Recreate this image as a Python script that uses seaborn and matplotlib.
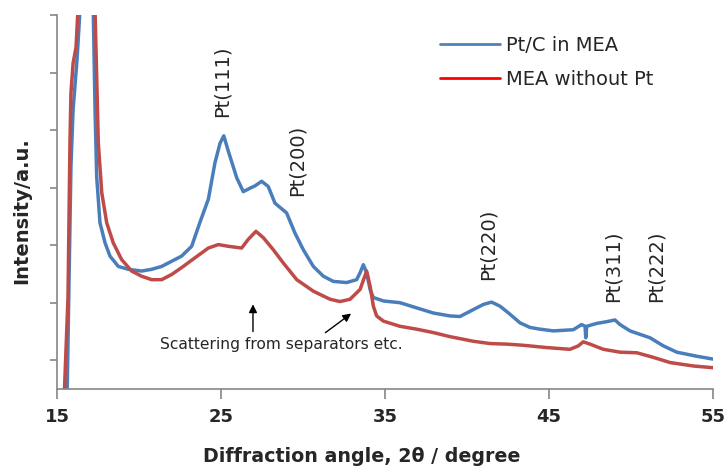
import matplotlib
matplotlib.use("Agg")
import matplotlib.pyplot as plt
from matplotlib.lines import Line2D
import seaborn as sns
import pandas as pd

# ---- data ----
blue_name = "Pt/C in MEA"
red_name = "MEA without Pt"

blue_x = [15.62, 15.85, 15.98, 16.22, 16.40, 16.8, 17.21, 17.32, 17.42, 17.62, 17.93, 18.23,
          18.74, 19.35, 20.16, 20.77, 21.38, 21.99, 22.6, 23.21, 23.72, 24.23, 24.63, 24.94,
          25.17, 25.45, 25.96, 26.36, 26.77, 27.07, 27.48, 27.88, 28.29, 29.0, 29.51, 30.02,
          30.63, 31.24, 31.85, 32.66, 33.27, 33.48, 33.68, 33.88, 34.09, 34.29, 34.9, 35.91,
          36.93, 37.95, 38.96, 39.57, 40.18, 41.0, 41.5, 42.01, 42.62, 43.23, 43.84, 44.45,
          45.26, 46.48, 46.99, 47.2, 47.24, 47.3, 47.91, 48.52, 49.02, 49.33, 49.94, 51.16,
          51.97, 52.79, 54.0, 55.0]
blue_y = [0.45, 4.36, 5.35, 6.22, 7.08, 10.0, 7.08, 5.35, 4.19, 3.39, 3.04, 2.81,
          2.63, 2.58, 2.55, 2.58, 2.63, 2.72, 2.81, 2.98, 3.40, 3.80, 4.43, 4.77,
          4.90, 4.63, 4.17, 3.93, 3.99, 4.03, 4.11, 4.02, 3.73, 3.56, 3.21, 2.92,
          2.63, 2.46, 2.37, 2.35, 2.40, 2.52, 2.66, 2.52, 2.23, 2.09, 2.03, 2.00,
          1.91, 1.82, 1.77, 1.76, 1.85, 1.97, 2.01, 1.94, 1.80, 1.65, 1.57, 1.54,
          1.51, 1.53, 1.62, 1.59, 1.39, 1.59, 1.64, 1.67, 1.70, 1.62, 1.51, 1.39,
          1.25, 1.14, 1.07, 1.02]

red_x = [15.45, 15.67, 15.79, 15.85, 15.98, 16.16, 16.28, 16.8, 17.32, 17.42, 17.52, 17.73,
         18.03, 18.43, 18.94, 19.55, 20.16, 20.77, 21.38, 21.99, 22.6, 23.41, 24.23, 24.84,
         25.45, 26.26, 26.66, 27.13, 27.58, 28.19, 28.8, 29.62, 30.63, 31.65, 32.26, 32.87,
         33.48, 33.88, 34.09, 34.29, 34.49, 34.9, 35.91, 36.93, 37.95, 38.96, 40.38, 41.4,
         42.42, 43.43, 44.86, 46.28, 46.79, 47.09, 47.5, 48.31, 49.33, 50.35, 51.36, 52.38,
         53.8, 55.0]
red_y = [0.45, 2.09, 4.78, 5.64, 6.16, 6.44, 7.10, 10.0, 7.08, 5.93, 4.77, 3.91,
         3.39, 3.04, 2.75, 2.55, 2.46, 2.40, 2.40, 2.49, 2.61, 2.78, 2.95, 3.01,
         2.98, 2.95, 3.10, 3.24, 3.13, 2.92, 2.69, 2.40, 2.20, 2.06, 2.02, 2.06,
         2.23, 2.55, 2.29, 1.94, 1.77, 1.68, 1.59, 1.54, 1.48, 1.41, 1.33, 1.29,
         1.28, 1.26, 1.22, 1.19, 1.25, 1.32, 1.28, 1.19, 1.14, 1.13, 1.05, 0.96,
         0.90, 0.87]

x_ticks = [15, 25, 35, 45, 55]
y_ticks = [1, 2, 3, 4, 5, 6, 7]

peak_labels = ["Pt(111)", "Pt(200)", "Pt(220)", "Pt(311)", "Pt(222)"]
peak_x = [25.06, 29.63, 41.28, 48.9, 51.52]
peak_y = [5.85, 4.48, 3.01, 2.63, 2.63]

note_text = "Scattering from separators etc."

# ---- build frame ----
df = pd.concat([
    pd.DataFrame({"angle": blue_x, "intensity": blue_y, "series": blue_name}),
    pd.DataFrame({"angle": red_x, "intensity": red_y, "series": red_name}),
], ignore_index=True)

sns.set_style("white")
plt.rcParams["font.family"] = ["DejaVu Sans"]

fig = plt.figure(figsize=(7.28, 4.72), dpi=100)
ax = fig.add_axes([57 / 728, 1 - 389 / 472, (713 - 57) / 728, (389 - 15) / 472])

line_colors = {blue_name: "#4A7EBB", red_name: "#BE4B48"}
sns.lineplot(data=df, x="angle", y="intensity", hue="series", palette=line_colors,
             estimator=None, sort=False, linewidth=2.5, ax=ax, legend=False)

ax.set_xlim(15, 55)
ax.set_ylim(0.5, 7)
ax.set_xticks(x_ticks)
ax.set_xticklabels([str(t) for t in x_ticks], fontsize=13, fontweight="bold")
ax.set_yticks(y_ticks)
ax.set_yticklabels([])

gray = "#868686"
for s in ["top", "right"]:
    ax.spines[s].set_visible(False)
for s in ["left", "bottom"]:
    ax.spines[s].set_color(gray)
    ax.spines[s].set_linewidth(1.2)
ax.tick_params(axis="x", direction="out", length=7, width=1.2, color=gray, pad=7, bottom=True)
ax.tick_params(axis="y", direction="out", length=5, width=1.2, color=gray, left=True)

ax.set_xlabel("Diffraction angle, 2\u03b8 / degree", fontsize=13.7, fontweight="bold")
ax.xaxis.set_label_coords(0.465, -0.155)
ax.set_ylabel("Intensity/a.u.", fontsize=14, fontweight="bold")
ax.yaxis.set_label_coords(-0.040, 0.476)

for lbl, px, py in zip(peak_labels, peak_x, peak_y):
    ax.text(px, py, lbl, rotation=90, ha="center", va="center", fontsize=14)

ax.text(28.66, 1.28, note_text, ha="center", va="center", fontsize=11.2)
ax.annotate("", xy=(26.95, 2.02), xytext=(26.95, 1.45),
            arrowprops=dict(arrowstyle="-|>", color="black", lw=1, mutation_scale=12))
ax.annotate("", xy=(33.07, 1.84), xytext=(31.23, 1.45),
            arrowprops=dict(arrowstyle="-|>", color="black", lw=1, mutation_scale=12))

handles = [Line2D([0], [0], color="#4F81BD", lw=2),
           Line2D([0], [0], color="#FF0000", lw=2)]
fig.legend(handles, [blue_name, red_name], loc="upper left",
           bbox_to_anchor=(440 / 728, 1 - 36 / 472), frameon=False, fontsize=14,
           handlelength=3.1, handletextpad=0.3, labelspacing=0.75, borderpad=0,
           borderaxespad=0)

fig.savefig("out.png", dpi=100, facecolor="white")
